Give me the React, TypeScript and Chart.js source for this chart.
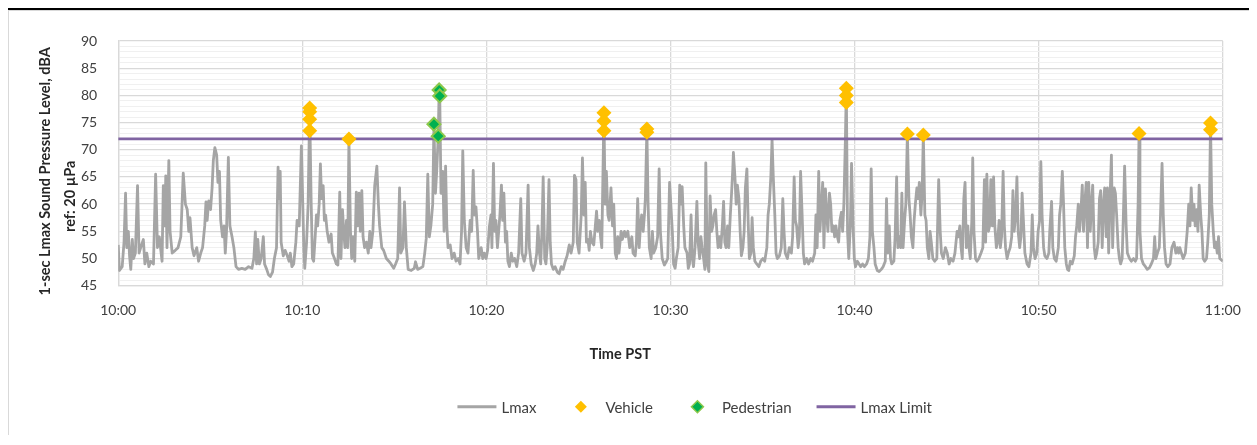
import { useEffect, useRef } from 'react';
import { Chart, registerables } from 'chart.js';

Chart.register(...registerables);

// Time axis: seconds after 10:00 PST
const timeTickLabels = ['10:00', '10:10', '10:20', '10:30', '10:40', '10:50', '11:00'];
const yTitleLines = ['1-sec Lmax Sound Pressure Level, dBA', 'ref: 20 µPa'];
const xTitle = 'Time PST';

// Lmax trace, [seconds after 10:00, dBA]
const lmax1000: [number, number][] = [
  [0, 52.5], [4, 47.8], [13, 48.5], [19, 53], [24, 62], [28, 52], [33, 55], [37, 50.5], [41, 48], [46, 53.5],
  [50, 50], [56, 51], [63, 63.4], [68, 51], [76, 52.5], [82, 53.5], [87, 49], [93, 51], [100, 48.5], [106, 49.5],
  [115, 49], [122, 65.5], [128, 52], [134, 54], [143, 49.5], [147, 63.4], [152, 56], [155, 65.2], [159, 52], [165, 68],
  [169, 55], [176, 51], [186, 51.5], [195, 52], [204, 54], [212, 65.7], [219, 60], [225, 59], [230, 55], [234, 57.5],
  [241, 52], [247, 50.5], [256, 52], [262, 49.5], [269, 51], [275, 52], [282, 56], [286, 60.4], [290, 57], [295, 60.6],
  [301, 59], [306, 63], [310, 68], [315, 70.4], [321, 69], [325, 64], [330, 66], [334, 57], [340, 54], [345, 56],
  [349, 51], [353, 55], [359, 68.6], [364, 56], [371, 54], [377, 52], [384, 48.5], [392, 48], [403, 48.2], [414, 48],
  [425, 48.5], [436, 48.2], [442, 50], [447, 54.9], [451, 49], [455, 53.5], [460, 49], [466, 50], [473, 54], [477, 49],
  [484, 48], [490, 47], [496, 46.7], [503, 47.5], [509, 50], [516, 52], [521, 66.8], [525, 61], [528, 66], [531, 53],
  [538, 50.5], [544, 51.5], [551, 50.5], [557, 49.5], [561, 51], [566, 48.5], [572, 49], [579, 53], [583, 57], [590, 56],
  [597, 70.7],
];

const lmax1010: [number, number][] = [
  [605, 52], [608, 48.2], [614, 53], [619, 60], [624, 77.7], [629, 60], [633, 50], [637, 49.5], [642, 54], [646, 58],
  [650, 56], [655, 60], [659, 67.4], [663, 61], [668, 63.4], [672, 57], [676, 58], [681, 55], [687, 53], [694, 54.5],
  [698, 51], [705, 50], [711, 49], [716, 48.8], [722, 62.2], [726, 50], [731, 59], [735, 55], [739, 52], [744, 57],
  [748, 52], [752, 72], [757, 55], [761, 50], [765, 54], [771, 49.5], [776, 62.2], [780, 56], [785, 62], [789, 55],
  [794, 62.5], [798, 54], [803, 52], [809, 53], [815, 51], [820, 55], [824, 52], [830, 55], [836, 63.4], [843, 67],
  [848, 60], [852, 56], [859, 52], [865, 51.5], [874, 50], [882, 49.5], [889, 49], [898, 48.2], [904, 49], [911, 50],
  [917, 63], [921, 51], [928, 52], [933, 60.4], [939, 52], [945, 48], [955, 47.8], [965, 48.2], [969, 49.4], [976, 48],
  [984, 48.2], [993, 48.5], [999, 51], [1004, 53.7], [1009, 65.5], [1014, 54], [1019, 56], [1025, 60], [1029, 74.7], [1034, 62],
  [1038, 66], [1043, 72.5], [1046, 81], [1048, 79.9], [1052, 62], [1058, 66], [1062, 55], [1067, 67], [1071, 56], [1075, 52],
  [1082, 52.5], [1088, 50], [1095, 51], [1101, 49.5], [1108, 50], [1114, 49], [1119, 55], [1123, 69.8], [1128, 57], [1134, 52],
  [1140, 51], [1147, 57], [1152, 55], [1157, 66.2], [1161, 58], [1166, 59.5], [1171, 55], [1175, 50], [1183, 52], [1188, 50],
  [1193, 51],
];

const lmax1020: [number, number][] = [
  [1199, 50], [1204, 51.5], [1210, 56], [1215, 58], [1218, 52], [1223, 67.5], [1227, 55], [1231, 57], [1236, 52], [1240, 55],
  [1244, 58], [1249, 63.5], [1253, 57], [1257, 62], [1262, 53], [1266, 55], [1270, 49.5], [1275, 48.5], [1281, 51], [1286, 49.5],
  [1292, 50], [1299, 48.5], [1305, 51], [1312, 61], [1316, 51], [1323, 49.5], [1329, 51], [1336, 63.5], [1340, 52], [1346, 49],
  [1353, 47.8], [1359, 49], [1364, 51], [1368, 56], [1373, 51], [1377, 49], [1381, 55], [1385, 65], [1390, 50], [1394, 49],
  [1398, 52], [1404, 64.5], [1408, 53], [1412, 49], [1418, 48], [1424, 48.5], [1431, 47.5], [1437, 47.2], [1444, 48.5], [1450, 48],
  [1457, 49.5], [1463, 50.5], [1470, 52.5], [1476, 51], [1483, 53], [1487, 65.3], [1492, 64.5], [1496, 53], [1502, 51], [1509, 58],
  [1513, 68.5], [1518, 58], [1522, 64], [1526, 53], [1531, 53.5], [1535, 51.5], [1539, 55], [1544, 53], [1550, 52.5], [1555, 56],
  [1559, 58.7], [1563, 55], [1568, 57], [1572, 54], [1576, 52], [1583, 76.8], [1587, 60], [1591, 66], [1596, 58], [1600, 57],
  [1606, 63], [1611, 56], [1615, 60], [1620, 51], [1624, 50], [1628, 54], [1632, 51], [1639, 55], [1643, 53.5], [1650, 55],
  [1654, 54], [1661, 55], [1667, 52], [1674, 54], [1678, 51], [1685, 50.5], [1689, 53], [1693, 61], [1698, 52], [1702, 56],
  [1706, 58], [1711, 55], [1715, 58], [1718, 61], [1723, 73.8], [1727, 60], [1731, 52], [1737, 50], [1741, 55], [1745, 51],
  [1752, 52], [1758, 54], [1763, 66.5], [1767, 55], [1773, 50], [1780, 48.8], [1787, 49.5], [1791, 50], [1797, 64],
];

const lmax1030: [number, number][] = [
  [1806, 55], [1810, 49], [1815, 48.2], [1819, 50], [1825, 52], [1830, 63.5], [1834, 60], [1838, 63.2], [1843, 56], [1847, 52],
  [1854, 51], [1858, 48.2], [1862, 49], [1867, 58], [1871, 50], [1875, 48.5], [1880, 52], [1886, 60.5], [1890, 53], [1895, 50],
  [1899, 54], [1903, 52], [1908, 50], [1912, 48], [1915, 67.6], [1920, 49], [1925, 47.6], [1929, 61.5], [1934, 55], [1938, 56],
  [1942, 58], [1947, 59], [1951, 55], [1955, 52], [1960, 54], [1964, 52], [1969, 56], [1973, 60.5], [1977, 53], [1981, 52],
  [1986, 56], [1990, 52], [1995, 58], [1999, 62], [2003, 66.5], [2005, 69.5], [2010, 65], [2014, 60], [2018, 63.5], [2023, 61],
  [2027, 55], [2031, 50.5], [2036, 52], [2040, 55], [2044, 63], [2049, 66.5], [2053, 57], [2057, 50], [2062, 51], [2066, 57.5],
  [2070, 52], [2075, 49.5], [2081, 49], [2088, 48.5], [2094, 49.5], [2101, 50], [2107, 49.5], [2114, 52], [2118, 58], [2122, 60],
  [2127, 65], [2131, 71.9], [2135, 65], [2140, 58], [2144, 51], [2148, 50], [2155, 50.5], [2161, 52], [2166, 61], [2170, 55],
  [2174, 51], [2181, 50], [2187, 52], [2194, 51], [2198, 54], [2203, 65], [2207, 57], [2211, 56], [2216, 52], [2220, 54],
  [2224, 66], [2229, 58], [2233, 51], [2237, 49], [2244, 50], [2250, 49], [2257, 50], [2263, 49.5], [2270, 51], [2274, 58],
  [2278, 52], [2283, 66], [2287, 55], [2292, 60], [2296, 64], [2300, 52], [2305, 62.8], [2309, 58], [2313, 55], [2318, 62],
  [2322, 60], [2326, 55], [2331, 56], [2335, 54], [2339, 56], [2344, 54], [2348, 53], [2352, 57], [2357, 58.5], [2361, 55],
  [2365, 60], [2370, 72], [2373, 81.3], [2377, 55], [2381, 50], [2386, 56], [2390, 67.5], [2395, 56], [2399, 50], [2403, 48.5],
  [2409, 49.5],
];

const lmax1040: [number, number][] = [
  [2420, 48.5], [2426, 49], [2432, 48.5], [2439, 49], [2445, 50], [2450, 54], [2454, 66.5], [2458, 55], [2463, 52], [2467, 49],
  [2474, 47.8], [2480, 47.6], [2487, 48], [2493, 48.5], [2500, 49.5], [2504, 61], [2508, 51], [2513, 56], [2517, 50], [2521, 49],
  [2528, 49.5], [2532, 54], [2537, 65], [2541, 52], [2545, 54], [2550, 52], [2554, 62], [2558, 52], [2563, 57], [2567, 60],
  [2572, 72.9], [2577, 61], [2581, 58], [2585, 54], [2590, 52], [2594, 57], [2598, 60], [2603, 63], [2607, 61], [2611, 64],
  [2616, 58], [2620, 62], [2624, 72.7], [2629, 58], [2633, 57], [2637, 52], [2642, 50], [2646, 55], [2650, 53], [2655, 50],
  [2661, 49.5], [2668, 50], [2674, 64.5], [2679, 55], [2683, 51], [2689, 50], [2696, 52], [2702, 51], [2708, 49], [2714, 50],
  [2721, 49.5], [2727, 51], [2734, 55], [2738, 54], [2743, 56], [2747, 52], [2751, 50], [2756, 61], [2760, 64], [2764, 52],
  [2769, 56], [2773, 52], [2777, 50], [2782, 57], [2785, 68.5], [2789, 55], [2794, 50], [2799, 49.5], [2805, 50], [2812, 51],
  [2818, 52], [2823, 64.5], [2827, 53], [2831, 65.5], [2836, 55], [2840, 56], [2844, 64.5], [2849, 56], [2853, 65], [2857, 56],
  [2862, 52], [2866, 53], [2871, 57], [2875, 52], [2879, 54], [2884, 66], [2888, 56], [2892, 52], [2897, 50], [2901, 51],
  [2907, 52], [2912, 54], [2916, 62.5], [2920, 55], [2925, 58], [2929, 65], [2933, 55], [2938, 52], [2942, 54], [2946, 62],
  [2951, 56], [2955, 51], [2962, 49], [2968, 48.5], [2975, 51], [2979, 58], [2983, 52], [2988, 50], [2994, 51], [2998, 55],
  [3003, 57], [3007, 67.8], [3011, 58], [3016, 52], [3020, 50.5], [3027, 50], [3033, 51],
];

const lmax1050: [number, number][] = [
  [3036, 55], [3042, 60.5], [3046, 52], [3051, 50], [3057, 49.5], [3064, 52], [3068, 58], [3072, 60], [3077, 66], [3081, 60],
  [3085, 52], [3090, 49], [3094, 48], [3098, 47.8], [3103, 49.5], [3109, 49], [3116, 50.5], [3120, 54], [3124, 56], [3129, 60],
  [3133, 55], [3137, 58], [3142, 63.5], [3146, 55], [3150, 60], [3155, 64], [3159, 52], [3163, 64], [3168, 55], [3172, 60],
  [3176, 63.5], [3181, 52], [3185, 50], [3189, 51], [3194, 53], [3198, 61], [3202, 62.5], [3207, 52], [3211, 60], [3215, 63],
  [3220, 54], [3224, 63], [3228, 51], [3233, 62], [3237, 69], [3241, 52], [3246, 63], [3250, 62], [3254, 58], [3259, 52],
  [3263, 50], [3267, 49], [3272, 50], [3276, 58], [3280, 67], [3285, 56], [3289, 51], [3296, 50], [3302, 49.5], [3309, 50],
  [3315, 49.5], [3319, 50], [3324, 60], [3327, 73], [3330, 55], [3335, 50], [3341, 49], [3348, 48.5], [3354, 48], [3361, 48.3],
  [3367, 49], [3374, 50], [3378, 54], [3382, 50], [3387, 51], [3393, 52], [3397, 58], [3402, 67.5], [3406, 58], [3410, 52],
  [3415, 49], [3421, 48.5], [3428, 49], [3434, 52], [3441, 53], [3447, 51], [3452, 52], [3456, 51], [3460, 52], [3465, 51],
  [3471, 50], [3478, 51], [3484, 55], [3489, 60], [3493, 56], [3497, 63], [3502, 57], [3506, 60], [3510, 56], [3515, 59],
  [3519, 55], [3523, 63.5], [3528, 58], [3532, 55], [3536, 50], [3541, 49.5], [3547, 50], [3551, 53], [3556, 58], [3560, 74.9],
  [3564, 60], [3569, 55], [3573, 52], [3577, 53], [3582, 51], [3586, 54], [3590, 50], [3600, 49.5],
];

// Flagged events
const vehicleTimes = [624, 624, 624, 624, 752, 1583, 1583, 1583, 1723, 1723, 2373, 2373, 2373, 2572, 2624, 3327, 3560, 3560];
const vehicleLevels = [77.7, 77.0, 75.6, 73.5, 72.0, 76.8, 75.3, 73.5, 73.8, 73.2, 81.3, 80.0, 78.7, 72.9, 72.7, 73.0, 74.9, 73.7];
const pedestrianTimes = [1029, 1043, 1046, 1048];
const pedestrianLevels = [74.7, 72.5, 81.0, 79.9];

const limitLevel = 72;
const timeStart = 0;
const timeEnd = 3600;

const COLORS = {
  lmax: '#A5A5A5',
  vehicle: '#FFC000',
  pedFill: '#00B050',
  pedBorder: '#8CC84B',
  limit: '#8064A2',
};

const decorPlugin = {
  id: 'decor',
  afterDraw(chart: any) {
    const { ctx, chartArea: a } = chart;
    ctx.save();
    // y-axis title (two lines)
    ctx.fillStyle = '#262626';
    ctx.font = 'bold 14.5px Lato';
    ctx.textAlign = 'center';
    ctx.textBaseline = 'middle';
    const midY = (a.top + a.bottom) / 2;
    yTitleLines.forEach((line, i) => {
      ctx.save();
      ctx.translate(a.left - 73 + i * 25, midY + 8 + i * 25);
      ctx.rotate(-Math.PI / 2);
      ctx.fillText(line, 0, 0);
      ctx.restore();
    });
    // x-axis title
    ctx.fillText(xTitle, a.left + 502, a.bottom + 69);

    // legend
    ctx.font = '15px Lato';
    const ds = chart.data.datasets;
    const order = [0, 1, 2, 3];
    const box = 39;
    const gap = 5;
    const between = 25;
    const widths = order.map((i) => box + gap + ctx.measureText(ds[i].label).width);
    const total = widths.reduce((s: number, w: number) => s + w, 0) + between * (order.length - 1);
    let x = a.left + 576.5 - total / 2;
    const y = a.bottom + 121;
    order.forEach((i, k) => {
      const d = ds[i];
      if (d.legendKind === 'line') {
        ctx.strokeStyle = d.borderColor;
        ctx.lineWidth = 3;
        ctx.beginPath();
        ctx.moveTo(x, y);
        ctx.lineTo(x + box, y);
        ctx.stroke();
      } else {
        const cx = x + box / 2;
        const r = 6;
        ctx.beginPath();
        ctx.moveTo(cx - r, y);
        ctx.lineTo(cx, y - r);
        ctx.lineTo(cx + r, y);
        ctx.lineTo(cx, y + r);
        ctx.closePath();
        ctx.fillStyle = d.backgroundColor;
        ctx.fill();
        if (d.borderWidth) {
          ctx.strokeStyle = d.borderColor;
          ctx.lineWidth = 1.5;
          ctx.stroke();
        }
      }
      ctx.fillStyle = '#404040';
      ctx.textAlign = 'left';
      ctx.fillText(d.label, x + box + gap, y + 1);
      x += widths[k] + between;
    });
    ctx.restore();
  },
};

export default function App() {
  const ref = useRef<HTMLCanvasElement>(null);

  useEffect(() => {
    document.documentElement.style.overflow = 'hidden';
    const lmaxPoints = [...lmax1000, ...lmax1010, ...lmax1020, ...lmax1030, ...lmax1040, ...lmax1050].map(([x, y]) => ({ x, y }));
    const vehiclePoints = vehicleTimes.map((t, i) => ({ x: t, y: vehicleLevels[i] }));
    const pedestrianPoints = pedestrianTimes.map((t, i) => ({ x: t, y: pedestrianLevels[i] }));
    const limitPoints = [{ x: timeStart, y: limitLevel }, { x: timeEnd, y: limitLevel }];

    const chart = new Chart(ref.current!, {
      type: 'scatter',
      data: {
        datasets: [
          {
            label: 'Lmax',
            data: lmaxPoints,
            showLine: true,
            borderColor: COLORS.lmax,
            backgroundColor: COLORS.lmax,
            borderWidth: 2.8,
            borderJoinStyle: 'round',
            pointRadius: 0,
            order: 4,
            legendKind: 'line',
          } as any,
          {
            label: 'Vehicle',
            data: vehiclePoints,
            pointStyle: 'rectRot',
            pointRadius: 7.5,
            backgroundColor: COLORS.vehicle,
            borderColor: COLORS.vehicle,
            borderWidth: 0,
            order: 1,
            legendKind: 'point',
          } as any,
          {
            label: 'Pedestrian',
            data: pedestrianPoints,
            pointStyle: 'rectRot',
            pointRadius: 6.5,
            backgroundColor: COLORS.pedFill,
            borderColor: COLORS.pedBorder,
            borderWidth: 2,
            order: 0,
            legendKind: 'point',
          } as any,
          {
            label: 'Lmax Limit',
            data: limitPoints,
            showLine: true,
            borderColor: COLORS.limit,
            backgroundColor: COLORS.limit,
            borderWidth: 2.8,
            pointRadius: 0,
            order: 3,
            legendKind: 'line',
          } as any,
        ],
      },
      options: {
        animation: false,
        responsive: true,
        maintainAspectRatio: false,
        layout: { padding: { top: 31, right: 34.2, bottom: 89.3, left: 0 } },
        plugins: {
          legend: { display: false },
          tooltip: { enabled: false },
        },
        scales: {
          x: {
            type: 'linear',
            min: timeStart,
            max: timeEnd,
            afterFit: (s: any) => { s.height = 60; },
            ticks: {
              stepSize: 600,
              autoSkip: false,
              maxRotation: 0,
              padding: 16,
              color: '#404040',
              font: { family: 'Lato', size: 14 },
              callback: (_v: any, i: number) => timeTickLabels[i],
            },
            grid: { color: '#D9D9D9', lineWidth: 1.3, drawTicks: false },
            border: { display: true, color: '#D9D9D9', width: 1.3 },
          },
          y: {
            type: 'linear',
            min: 45,
            max: 90,
            afterFit: (s: any) => { s.width = 110.2; },
            ticks: {
              stepSize: 1,
              autoSkip: false,
              padding: 21,
              color: '#404040',
              font: { family: 'Lato', size: 14 },
              callback: (v: any) => (Number(v) % 5 === 0 ? String(v) : ''),
            },
            grid: {
              drawTicks: false,
              color: (c: any) => (c.tick && c.tick.value % 5 === 0 ? '#D9D9D9' : '#F0F0F0'),
              lineWidth: (c: any) => (c.tick && c.tick.value % 5 === 0 ? 1.3 : 1),
            },
            border: { display: true, color: '#D9D9D9', width: 1.3 },
          },
        },
      },
      plugins: [decorPlugin],
    } as any);
    return () => chart.destroy();
  }, []);

  return (
    <div
      style={{
        marginLeft: -2,
        width: 1251,
        height: 427,
        boxSizing: 'border-box',
        borderTop: '2px solid #000',
        borderLeft: '2px solid #000',
        boxShadow: 'inset 1px 1px 0 #D9D9D9',
        background: '#fff',
      }}
    >
      <div style={{ position: 'relative', width: 1249, height: 425 }}>
        <canvas ref={ref} />
      </div>
    </div>
  );
}
